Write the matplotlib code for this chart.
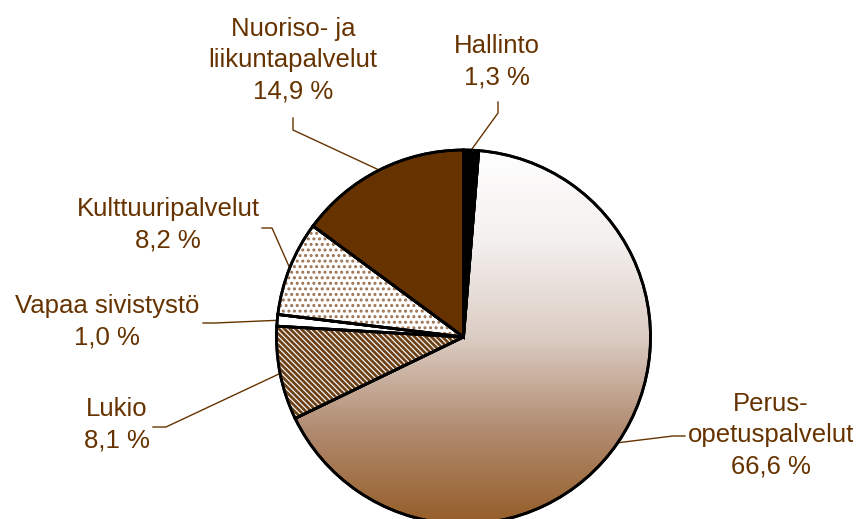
import numpy as np
import matplotlib
matplotlib.use("Agg")
import matplotlib.pyplot as plt
from matplotlib.colors import LinearSegmentedColormap
from matplotlib.patches import Wedge

labels = ["Hallinto", "Perus-\nopetuspalvelut", "Lukio", "Vapaa sivistystö",
          "Kulttuuripalvelut", "Nuoriso- ja\nliikuntapalvelut"]
values = [1.3, 66.6, 8.1, 1.0, 8.2, 14.9]

BROWN = "#663300"
W, H = 857, 519
plt.rcParams['font.family'] = ['Liberation Sans', 'DejaVu Sans']

fig = plt.figure(figsize=(W / 100, H / 100), dpi=100)
ax = fig.add_axes([0, 0, 1, 1])

def Y(py):
    return H - py

cx, cy, r = 463.5, Y(337), 187

face = ["black", "none", "white", "white", "white", BROWN]
wedges, _ = ax.pie(values, startangle=90, counterclock=False, center=(cx, cy),
                   radius=r, colors=face,
                   wedgeprops=dict(edgecolor="black", linewidth=2, zorder=3),
                   frame=True)
ax.set_xlim(0, W)
ax.set_ylim(0, H)
ax.set_aspect("equal")
ax.axis("off")

# gradient for Perusopetuspalvelut
cmap = LinearSegmentedColormap.from_list(
    "g", [(0.0, "#ffffff"), (0.25, "#f3efed"), (0.5, "#dccdc4"),
          (0.75, "#b18b70"), (1.0, "#955d28")])
im = ax.imshow(np.linspace(0, 1, 256).reshape(-1, 1), cmap=cmap,
               extent=[cx - r, cx + r, cy - r, cy + r],
               origin="upper", aspect="auto", zorder=2, vmin=0, vmax=1)
im.set_clip_path(wedges[1])

# hatch overlays
for idx, hatch, col, hlw in [(2, "\\\\\\\\\\\\", "#6e4218", 2.0), (4, "...", "#9a7252", 1.4)]:
    plt.rcParams['hatch.linewidth'] = hlw
    w = wedges[idx]
    ov = Wedge(w.center, w.r, w.theta1, w.theta2, facecolor="none",
               edgecolor=col, hatch=hatch, linewidth=0, zorder=3.5)
    ax.add_patch(ov)
for w in wedges:
    ax.add_patch(Wedge(w.center, w.r, w.theta1, w.theta2, facecolor="none",
                       edgecolor="black", linewidth=2, zorder=4))

def pct(v):
    return f"{v:.1f}".replace(".", ",") + " %"

# label positions (text center) and elbow points, in pixel coords
text_pos = [(497, 62), (771, 435), (117, 425), (107, 322), (168, 225), (293, 60)]
elbows = [[(498, 102), (498, 113)],
          [(685, 436), (673, 436)],
          [(153, 427), (166, 427)],
          [(203, 323), (215, 323)],
          [(262, 228), (272, 228)],
          [(293, 118), (293, 130)]]

for i, w in enumerate(wedges):
    tx, ty = text_pos[i]
    ax.text(tx, Y(ty), labels[i] + "\n" + pct(values[i]), ha="center", va="center",
            fontsize=18.5, color=BROWN, linespacing=1.38, zorder=5)
    mid = np.deg2rad((w.theta1 + w.theta2) / 2)
    ex, ey = cx + r * np.cos(mid), cy + r * np.sin(mid)
    pts = [(x, Y(y)) for x, y in elbows[i]] + [(ex, ey)]
    xs, ys = zip(*pts)
    ax.plot(xs, ys, color=BROWN, linewidth=1, zorder=3.8)

fig.savefig("out.png", dpi=100)
